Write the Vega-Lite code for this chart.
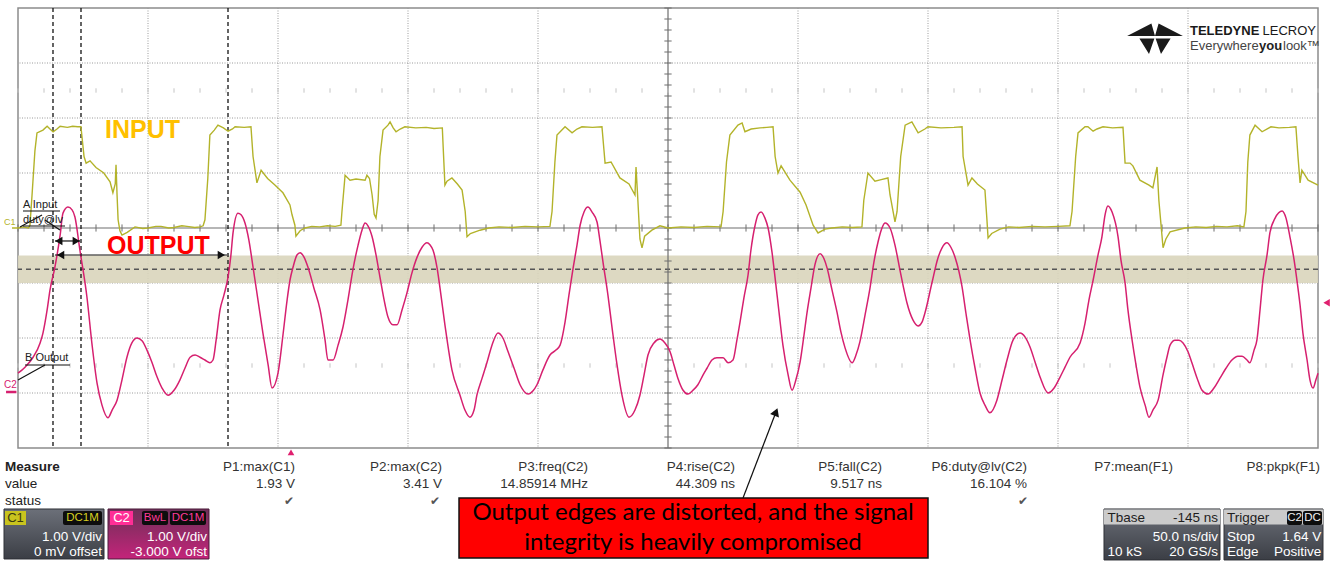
{
  "$schema": "https://vega.github.io/schema/vega-lite/v6.json",
  "width": 1300,
  "height": 440,
  "autosize": {"type": "none"},
  "padding": {"left": 18, "top": 8, "right": 13, "bottom": 114},
  "background": "white",
  "config": {"view": {"stroke": "#8c8c8c", "strokeWidth": 1.5}, "text": {"font": "Liberation Sans"}},
  "resolve": {"scale": {"y": "independent"}},
  "datasets": {
    "gridT": [{"t": -55}, {"t": -5}, {"t": 45}, {"t": 95}, {"t": 195}, {"t": 245}, {"t": 295}, {"t": 345}],
    "gridV": [{"v": -3}, {"v": -2}, {"v": -1}, {"v": 1}, {"v": 2}, {"v": 3}],
    "minorT": [{"t": -105}, {"t": -95}, {"t": -85}, {"t": -75}, {"t": -65}, {"t": -55}, {"t": -45}, {"t": -35}, {"t": -25}, {"t": -15}, {"t": -5}, {"t": 5}, {"t": 15}, {"t": 25}, {"t": 35}, {"t": 45}, {"t": 55}, {"t": 65}, {"t": 75}, {"t": 85}, {"t": 95}, {"t": 105}, {"t": 115}, {"t": 125}, {"t": 135}, {"t": 145}, {"t": 155}, {"t": 165}, {"t": 175}, {"t": 185}, {"t": 195}, {"t": 205}, {"t": 215}, {"t": 225}, {"t": 235}, {"t": 245}, {"t": 255}, {"t": 265}, {"t": 275}, {"t": 285}, {"t": 295}, {"t": 305}, {"t": 315}, {"t": 325}, {"t": 335}, {"t": 345}, {"t": 355}, {"t": 365}, {"t": 375}, {"t": 385}, {"t": 395}],
    "minorV": [{"v": -4}, {"v": -3.8}, {"v": -3.6}, {"v": -3.4}, {"v": -3.2}, {"v": -3}, {"v": -2.8}, {"v": -2.6}, {"v": -2.4}, {"v": -2.2}, {"v": -2}, {"v": -1.8}, {"v": -1.6}, {"v": -1.4}, {"v": -1.2}, {"v": -1}, {"v": -0.8}, {"v": -0.6}, {"v": -0.4}, {"v": -0.2}, {"v": 0}, {"v": 0.2}, {"v": 0.4}, {"v": 0.6}, {"v": 0.8}, {"v": 1}, {"v": 1.2}, {"v": 1.4}, {"v": 1.6}, {"v": 1.8}, {"v": 2}, {"v": 2.2}, {"v": 2.4}, {"v": 2.6}, {"v": 2.8}, {"v": 3}, {"v": 3.2}, {"v": 3.4}, {"v": 3.6}, {"v": 3.8}, {"v": 4}],
    "c1": [
      {"t": -105, "v": 0.0}, {"t": -103, "v": 0.02}, {"t": -101, "v": 0.0}, {"t": -100.4, "v": 0.05}, {"t": -99.6, "v": 0.6}, {"t": -98.5, "v": 1.4}, {"t": -97.7, "v": 1.73}, {"t": -95.4, "v": 1.78}, {"t": -93.8, "v": 1.85}, {"t": -92.7, "v": 1.8}, {"t": -91.5, "v": 1.75}, {"t": -90, "v": 1.8}, {"t": -88.8, "v": 1.85}, {"t": -86, "v": 1.83}, {"t": -84, "v": 1.85}, {"t": -82, "v": 1.84}, {"t": -80.8, "v": 1.84},
      {"t": -79.6, "v": 1.3}, {"t": -78.8, "v": 1.18}, {"t": -77.3, "v": 1.22}, {"t": -75, "v": 1.1}, {"t": -72, "v": 1.0}, {"t": -69.6, "v": 0.84}, {"t": -68.5, "v": 0.64}, {"t": -67.6, "v": 0.8}, {"t": -67.3, "v": 1.15}, {"t": -66.9, "v": 0.6}, {"t": -66.5, "v": 0.15}, {"t": -65.8, "v": -0.05}, {"t": -65, "v": -0.13}, {"t": -63, "v": -0.08}, {"t": -60, "v": 0.02}, {"t": -57, "v": -0.01}, {"t": -55, "v": 0.0}, {"t": -52, "v": 0.03}, {"t": -50, "v": 0.03}, {"t": -47, "v": 0.0}, {"t": -45, "v": 0.01}, {"t": -42, "v": 0.04}, {"t": -40, "v": 0.03}, {"t": -37, "v": 0.01}, {"t": -35, "v": 0.02}, {"t": -33.8, "v": 0.04},
      {"t": -33.1, "v": 0.15}, {"t": -32, "v": 0.9}, {"t": -31.2, "v": 1.69}, {"t": -29.5, "v": 1.78}, {"t": -28.1, "v": 1.87}, {"t": -26, "v": 1.82}, {"t": -24.2, "v": 1.76}, {"t": -22.5, "v": 1.8}, {"t": -21.5, "v": 1.84}, {"t": -18, "v": 1.83}, {"t": -15.4, "v": 1.84},
      {"t": -14.6, "v": 1.3}, {"t": -13.1, "v": 0.82}, {"t": -11.5, "v": 1.05}, {"t": -9, "v": 0.9}, {"t": -6.2, "v": 0.78}, {"t": -3.1, "v": 0.64}, {"t": -0.4, "v": 0.42}, {"t": 0.4, "v": 0.24}, {"t": 1.5, "v": 0.05}, {"t": 1.9, "v": -0.15}, {"t": 3.5, "v": -0.05}, {"t": 5.4, "v": 0.0}, {"t": 8, "v": 0.03}, {"t": 11, "v": 0.02}, {"t": 14, "v": 0.04}, {"t": 17, "v": 0.03}, {"t": 19.2, "v": 0.05},
      {"t": 19.6, "v": 0.3}, {"t": 20.8, "v": 0.96}, {"t": 22.7, "v": 0.87}, {"t": 25, "v": 0.89}, {"t": 28.5, "v": 0.87}, {"t": 29.2, "v": 0.96}, {"t": 30.2, "v": 0.9}, {"t": 31.2, "v": 0.6}, {"t": 32, "v": 0.25}, {"t": 32.7, "v": 0.18}, {"t": 33.5, "v": 0.5}, {"t": 34.2, "v": 1.3}, {"t": 35.4, "v": 1.78}, {"t": 37.3, "v": 1.87}, {"t": 38.1, "v": 1.93}, {"t": 39.3, "v": 1.82}, {"t": 40.4, "v": 1.75}, {"t": 42, "v": 1.8}, {"t": 43.8, "v": 1.84}, {"t": 48, "v": 1.82}, {"t": 52, "v": 1.83}, {"t": 55, "v": 1.81}, {"t": 58.2, "v": 1.82},
      {"t": 58.5, "v": 1.5}, {"t": 59.2, "v": 0.78}, {"t": 60, "v": 0.85}, {"t": 61.9, "v": 0.91}, {"t": 64, "v": 0.8}, {"t": 65.8, "v": 0.69}, {"t": 67, "v": 0.3}, {"t": 67.7, "v": -0.16}, {"t": 69, "v": -0.1}, {"t": 72.7, "v": -0.04}, {"t": 76, "v": 0.0}, {"t": 80, "v": 0.02}, {"t": 85, "v": 0.01}, {"t": 90, "v": 0.03}, {"t": 95, "v": 0.02}, {"t": 99.6, "v": 0.03},
      {"t": 100.4, "v": 0.3}, {"t": 101.5, "v": 1.2}, {"t": 102.3, "v": 1.69}, {"t": 105.4, "v": 1.84}, {"t": 108.1, "v": 1.73}, {"t": 110, "v": 1.8}, {"t": 111.9, "v": 1.84}, {"t": 116, "v": 1.83}, {"t": 119.6, "v": 1.84},
      {"t": 120.4, "v": 1.4}, {"t": 120.8, "v": 1.18}, {"t": 123.1, "v": 1.2}, {"t": 126.5, "v": 0.91}, {"t": 130, "v": 0.8}, {"t": 132.3, "v": 0.6}, {"t": 132.7, "v": 1.11}, {"t": 133.3, "v": 0.6}, {"t": 134.2, "v": -0.2}, {"t": 135, "v": -0.36}, {"t": 136, "v": -0.15}, {"t": 138.8, "v": -0.04}, {"t": 141.9, "v": 0.04}, {"t": 145, "v": 0.0}, {"t": 150, "v": 0.02}, {"t": 155, "v": 0.01}, {"t": 160, "v": 0.03}, {"t": 165.4, "v": 0.02},
      {"t": 166.2, "v": 0.3}, {"t": 167.5, "v": 1.2}, {"t": 168.8, "v": 1.69}, {"t": 171.9, "v": 1.87}, {"t": 173.5, "v": 1.91}, {"t": 174.6, "v": 1.75}, {"t": 177, "v": 1.8}, {"t": 180.4, "v": 1.82}, {"t": 183, "v": 1.83}, {"t": 185.4, "v": 1.84},
      {"t": 186.2, "v": 1.3}, {"t": 187.3, "v": 1.0}, {"t": 188.5, "v": 1.13}, {"t": 191.9, "v": 0.87}, {"t": 195.8, "v": 0.65}, {"t": 198.1, "v": 0.42}, {"t": 200.8, "v": 0.05}, {"t": 202.7, "v": -0.09}, {"t": 205.4, "v": -0.02}, {"t": 208, "v": 0.0}, {"t": 212, "v": 0.02}, {"t": 216, "v": 0.01}, {"t": 219.6, "v": 0.02},
      {"t": 220.3, "v": 0.5}, {"t": 221.9, "v": 1.0}, {"t": 224.6, "v": 0.85}, {"t": 227, "v": 0.88}, {"t": 229.6, "v": 0.91},
      {"t": 230.4, "v": 0.6}, {"t": 232.3, "v": 0.11}, {"t": 233.1, "v": 0.3}, {"t": 234.5, "v": 1.3}, {"t": 236.2, "v": 1.87}, {"t": 238.8, "v": 1.93}, {"t": 241.2, "v": 1.73}, {"t": 243.8, "v": 1.8}, {"t": 245, "v": 1.84}, {"t": 250, "v": 1.82}, {"t": 255, "v": 1.83}, {"t": 258.1, "v": 1.84},
      {"t": 258.5, "v": 1.3}, {"t": 260.4, "v": 0.78}, {"t": 261.9, "v": 0.91}, {"t": 264, "v": 0.8}, {"t": 266.9, "v": 0.69}, {"t": 267.6, "v": 0.2}, {"t": 268.1, "v": -0.18}, {"t": 269.5, "v": -0.1}, {"t": 272.7, "v": -0.02}, {"t": 276, "v": 0.02}, {"t": 280, "v": 0.01}, {"t": 285, "v": 0.03}, {"t": 290, "v": 0.02}, {"t": 295, "v": 0.03}, {"t": 299.6, "v": 0.04},
      {"t": 300.4, "v": 0.3}, {"t": 301.8, "v": 1.3}, {"t": 302.7, "v": 1.73}, {"t": 305.4, "v": 1.84}, {"t": 306.5, "v": 1.84}, {"t": 308.5, "v": 1.76}, {"t": 310, "v": 1.8}, {"t": 312.3, "v": 1.84}, {"t": 316, "v": 1.82}, {"t": 320, "v": 1.83},
      {"t": 320.8, "v": 1.18}, {"t": 322.7, "v": 1.18}, {"t": 323.8, "v": 1.13}, {"t": 326.5, "v": 0.87}, {"t": 330, "v": 0.78}, {"t": 331.5, "v": 0.73}, {"t": 333.1, "v": 1.11}, {"t": 333.8, "v": 0.5}, {"t": 335.4, "v": -0.36}, {"t": 336.5, "v": -0.2}, {"t": 338.1, "v": -0.07}, {"t": 343.8, "v": 0.0}, {"t": 348, "v": 0.02}, {"t": 352, "v": 0.01}, {"t": 356, "v": 0.03}, {"t": 360, "v": 0.02}, {"t": 364, "v": 0.04}, {"t": 366.5, "v": 0.02},
      {"t": 367.3, "v": 0.3}, {"t": 368, "v": 1.2}, {"t": 368.8, "v": 1.69}, {"t": 370.8, "v": 1.87}, {"t": 373.5, "v": 1.75}, {"t": 376.9, "v": 1.84}, {"t": 380, "v": 1.82}, {"t": 384, "v": 1.83}, {"t": 386.5, "v": 1.84},
      {"t": 387.3, "v": 1.3}, {"t": 388.1, "v": 0.82}, {"t": 388.8, "v": 1.05}, {"t": 391.2, "v": 0.87}, {"t": 395, "v": 0.78}
    ],
    "c2": [
      {"t": -105, "v": 0.36}, {"t": -102.3, "v": 0.47}, {"t": -99.2, "v": 0.65}, {"t": -96.5, "v": 0.91}, {"t": -95.4, "v": 1.09}, {"t": -93.8, "v": 1.51}, {"t": -92.7, "v": 1.87}, {"t": -90.8, "v": 2.29}, {"t": -88.8, "v": 2.87}, {"t": -87.7, "v": 3.27}, {"t": -85.8, "v": 3.38}, {"t": -84.2, "v": 3.33}, {"t": -83.1, "v": 3.2}, {"t": -81.2, "v": 2.6}, {"t": -78.5, "v": 1.75}, {"t": -76.5, "v": 0.87}, {"t": -74.6, "v": 0.18}, {"t": -72.7, "v": -0.22}, {"t": -70.4, "v": -0.45}, {"t": -68.8, "v": -0.31}, {"t": -66.9, "v": -0.13}, {"t": -65, "v": 0.24}, {"t": -63.1, "v": 0.65}, {"t": -61.2, "v": 0.91}, {"t": -59.2, "v": 1.0}, {"t": -57.3, "v": 0.95}, {"t": -55.4, "v": 0.78}, {"t": -53.5, "v": 0.56}, {"t": -51.5, "v": 0.29}, {"t": -49.6, "v": 0.09}, {"t": -47.3, "v": -0.04}, {"t": -45, "v": 0.05}, {"t": -42.7, "v": 0.24}, {"t": -40.8, "v": 0.45}, {"t": -38.8, "v": 0.65}, {"t": -36.9, "v": 0.69}, {"t": -35, "v": 0.65}, {"t": -33.1, "v": 0.6}, {"t": -31.2, "v": 0.55}, {"t": -30, "v": 0.6}, {"t": -28.8, "v": 0.96}, {"t": -27.3, "v": 1.51}, {"t": -25.8, "v": 1.78}, {"t": -24.2, "v": 2.11}, {"t": -23.1, "v": 2.51}, {"t": -22.3, "v": 2.91}, {"t": -20.4, "v": 3.27}, {"t": -19.2, "v": 3.24}, {"t": -17.7, "v": 3.09}, {"t": -16.2, "v": 2.78}, {"t": -14.6, "v": 2.29}, {"t": -12.7, "v": 1.69}, {"t": -10.8, "v": 1.09}, {"t": -8.8, "v": 0.51}, {"t": -7.3, "v": 0.09}, {"t": -5, "v": 0.36}, {"t": -3.1, "v": 1.05}, {"t": -1.5, "v": 1.69}, {"t": -0.4, "v": 2.05}, {"t": 0.8, "v": 2.29}, {"t": 2.3, "v": 2.51}, {"t": 3.5, "v": 2.55}, {"t": 5, "v": 2.47}, {"t": 6.5, "v": 2.29}, {"t": 8.8, "v": 1.91}, {"t": 11.2, "v": 1.51}, {"t": 13.1, "v": 0.96}, {"t": 14.2, "v": 0.6}, {"t": 16.2, "v": 0.6}, {"t": 18.1, "v": 0.87}, {"t": 20, "v": 1.2}, {"t": 21.9, "v": 1.69}, {"t": 23.8, "v": 2.24}, {"t": 25.8, "v": 2.69}, {"t": 27.3, "v": 2.96}, {"t": 28.5, "v": 3.09}, {"t": 29.6, "v": 3.04}, {"t": 31.2, "v": 2.84}, {"t": 32.7, "v": 2.51}, {"t": 34.2, "v": 2.11}, {"t": 36.2, "v": 1.6}, {"t": 37.3, "v": 1.38}, {"t": 39.2, "v": 1.24}, {"t": 40.8, "v": 1.24}, {"t": 42.7, "v": 1.51}, {"t": 44.6, "v": 1.82}, {"t": 46.5, "v": 2.18}, {"t": 48.5, "v": 2.47}, {"t": 50.4, "v": 2.65}, {"t": 52.3, "v": 2.73}, {"t": 53.5, "v": 2.69}, {"t": 54.6, "v": 2.6}, {"t": 56.2, "v": 2.27}, {"t": 57.3, "v": 1.91}, {"t": 59.2, "v": 1.24}, {"t": 61.9, "v": 0.42}, {"t": 65, "v": -0.04}, {"t": 66.9, "v": -0.31}, {"t": 68.8, "v": -0.44}, {"t": 70.4, "v": -0.31}, {"t": 71.5, "v": -0.04}, {"t": 73.5, "v": 0.27}, {"t": 75.4, "v": 0.56}, {"t": 77.3, "v": 0.87}, {"t": 79.6, "v": 1.09}, {"t": 81.5, "v": 1.0}, {"t": 83.5, "v": 0.75}, {"t": 85.8, "v": 0.45}, {"t": 88.1, "v": 0.15}, {"t": 91.2, "v": -0.02}, {"t": 93.1, "v": 0.04}, {"t": 94.6, "v": 0.15}, {"t": 96.9, "v": 0.42}, {"t": 99.6, "v": 0.69}, {"t": 101.9, "v": 0.78}, {"t": 103.5, "v": 0.87}, {"t": 105.4, "v": 1.29}, {"t": 106.9, "v": 1.78}, {"t": 108.5, "v": 2.27}, {"t": 110, "v": 2.69}, {"t": 111.2, "v": 3.05}, {"t": 112.7, "v": 3.29}, {"t": 114.2, "v": 3.38}, {"t": 115.8, "v": 3.29}, {"t": 117.7, "v": 3.11}, {"t": 118.8, "v": 2.78}, {"t": 120, "v": 2.38}, {"t": 121.9, "v": 1.78}, {"t": 123.5, "v": 1.18}, {"t": 125.4, "v": 0.51}, {"t": 127.3, "v": -0.04}, {"t": 130, "v": -0.44}, {"t": 132.3, "v": -0.31}, {"t": 134.2, "v": -0.04}, {"t": 135.8, "v": 0.33}, {"t": 137.3, "v": 0.69}, {"t": 139.6, "v": 0.91}, {"t": 141.9, "v": 0.98}, {"t": 143.8, "v": 0.91}, {"t": 145.8, "v": 0.75}, {"t": 147.3, "v": 0.51}, {"t": 148.8, "v": 0.27}, {"t": 150.8, "v": 0.05}, {"t": 152.7, "v": -0.02}, {"t": 154.6, "v": 0.05}, {"t": 156.5, "v": 0.15}, {"t": 158.5, "v": 0.33}, {"t": 160, "v": 0.45}, {"t": 161.9, "v": 0.6}, {"t": 163.8, "v": 0.64}, {"t": 166.2, "v": 0.64}, {"t": 168.1, "v": 0.55}, {"t": 170, "v": 0.6}, {"t": 171.5, "v": 0.96}, {"t": 172.7, "v": 1.29}, {"t": 174.2, "v": 1.73}, {"t": 175.8, "v": 2.15}, {"t": 176.9, "v": 2.6}, {"t": 178.5, "v": 3.05}, {"t": 179.6, "v": 3.24}, {"t": 180.8, "v": 3.29}, {"t": 182.3, "v": 3.18}, {"t": 183.5, "v": 3.0}, {"t": 185, "v": 2.56}, {"t": 186.2, "v": 2.09}, {"t": 187.7, "v": 1.47}, {"t": 189.2, "v": 0.87}, {"t": 191.2, "v": 0.33}, {"t": 192.7, "v": 0.05}, {"t": 194.2, "v": 0.24}, {"t": 195.8, "v": 0.56}, {"t": 197.3, "v": 1.05}, {"t": 198.5, "v": 1.47}, {"t": 200, "v": 1.91}, {"t": 201.5, "v": 2.33}, {"t": 203.5, "v": 2.53}, {"t": 205, "v": 2.44}, {"t": 206.2, "v": 2.27}, {"t": 208.1, "v": 1.87}, {"t": 210, "v": 1.47}, {"t": 211.5, "v": 1.11}, {"t": 213.1, "v": 0.82}, {"t": 215.8, "v": 0.55}, {"t": 217.3, "v": 0.69}, {"t": 218.8, "v": 0.93}, {"t": 220.8, "v": 1.42}, {"t": 222.7, "v": 1.91}, {"t": 224.2, "v": 2.38}, {"t": 225.8, "v": 2.75}, {"t": 227.3, "v": 3.0}, {"t": 228.5, "v": 3.09}, {"t": 230.4, "v": 3.0}, {"t": 232.3, "v": 2.69}, {"t": 234.2, "v": 2.24}, {"t": 235.8, "v": 1.87}, {"t": 236.9, "v": 1.64}, {"t": 239.2, "v": 1.33}, {"t": 241.2, "v": 1.22}, {"t": 242.7, "v": 1.29}, {"t": 243.8, "v": 1.45}, {"t": 246.5, "v": 2.0}, {"t": 248.8, "v": 2.45}, {"t": 250.4, "v": 2.64}, {"t": 252.3, "v": 2.73}, {"t": 253.8, "v": 2.65}, {"t": 255.4, "v": 2.47}, {"t": 258.1, "v": 1.93}, {"t": 259.6, "v": 1.45}, {"t": 261.2, "v": 0.96}, {"t": 263.1, "v": 0.45}, {"t": 265, "v": 0.0}, {"t": 266.9, "v": -0.22}, {"t": 268.8, "v": -0.36}, {"t": 271.5, "v": -0.13}, {"t": 273.5, "v": 0.24}, {"t": 275.4, "v": 0.6}, {"t": 277.7, "v": 0.96}, {"t": 280.4, "v": 1.09}, {"t": 282.3, "v": 1.02}, {"t": 284.2, "v": 0.84}, {"t": 286.2, "v": 0.56}, {"t": 288.1, "v": 0.29}, {"t": 291.2, "v": 0.0}, {"t": 293.5, "v": 0.09}, {"t": 295.8, "v": 0.29}, {"t": 297.7, "v": 0.47}, {"t": 299.6, "v": 0.65}, {"t": 303.5, "v": 0.91}, {"t": 305.4, "v": 1.27}, {"t": 306.9, "v": 1.69}, {"t": 308.5, "v": 2.05}, {"t": 310.4, "v": 2.51}, {"t": 311.9, "v": 2.84}, {"t": 313.1, "v": 3.24}, {"t": 314.2, "v": 3.4}, {"t": 315.8, "v": 3.29}, {"t": 318.1, "v": 2.84}, {"t": 319.2, "v": 2.42}, {"t": 320.8, "v": 2.0}, {"t": 321.9, "v": 1.51}, {"t": 323.5, "v": 0.96}, {"t": 325, "v": 0.51}, {"t": 326.5, "v": 0.11}, {"t": 328.5, "v": -0.22}, {"t": 330, "v": -0.44}, {"t": 331.5, "v": -0.31}, {"t": 333.5, "v": -0.13}, {"t": 335.4, "v": 0.33}, {"t": 336.9, "v": 0.65}, {"t": 338.1, "v": 0.87}, {"t": 340, "v": 0.96}, {"t": 341.5, "v": 0.96}, {"t": 343.1, "v": 0.91}, {"t": 345, "v": 0.75}, {"t": 346.5, "v": 0.55}, {"t": 348.5, "v": 0.27}, {"t": 350.4, "v": 0.05}, {"t": 352.7, "v": -0.02}, {"t": 355, "v": 0.09}, {"t": 357.3, "v": 0.27}, {"t": 359.6, "v": 0.45}, {"t": 361.9, "v": 0.6}, {"t": 364.2, "v": 0.67}, {"t": 365.8, "v": 0.67}, {"t": 367.7, "v": 0.6}, {"t": 368.8, "v": 0.55}, {"t": 370.4, "v": 0.78}, {"t": 371.5, "v": 0.96}, {"t": 372.7, "v": 1.51}, {"t": 373.8, "v": 2.05}, {"t": 375.4, "v": 2.51}, {"t": 376.5, "v": 2.91}, {"t": 378.5, "v": 3.18}, {"t": 381.2, "v": 3.31}, {"t": 382.7, "v": 3.18}, {"t": 384.2, "v": 2.84}, {"t": 385.8, "v": 2.42}, {"t": 386.9, "v": 2.05}, {"t": 388.1, "v": 1.6}, {"t": 389.2, "v": 1.09}, {"t": 390.8, "v": 0.6}, {"t": 391.9, "v": 0.24}, {"t": 393.1, "v": 0.09}, {"t": 394.2, "v": 0.24}, {"t": 395, "v": 0.36}
    ],
    "segs": [
      {"t0": -103.08, "t1": -88.85, "v0": 0.309, "v1": 0.309},
      {"t0": -103.08, "t1": -86.92, "v0": 0.036, "v1": 0.036},
      {"t0": -104.23, "t1": -95.77, "v0": 0.018, "v1": 0.236},
      {"t0": -94.62, "t1": -88.85, "v0": 0.145, "v1": -0.036},
      {"t0": -102.31, "t1": -85.0, "v0": -2.491, "v1": -2.491},
      {"t0": -105.0, "t1": -94.62, "v0": -2.764, "v1": -2.491},
      {"t0": -90.77, "t1": -81.15, "v0": -0.236, "v1": -0.236},
      {"t0": -90.77, "t1": -24.62, "v0": -0.491, "v1": -0.491},
      {"t0": 173.85, "t1": 186.54, "v0": -4.909, "v1": -3.345}
    ],
    "boxes": [
      {"t0": -110.38, "t1": -71.92, "v0": -5.109, "v1": -6.018, "k": "c1"},
      {"t0": -70.38, "t1": -31.54, "v0": -5.109, "v1": -6.018, "k": "c2"},
      {"t0": 312.69, "t1": 357.31, "v0": -5.109, "v1": -6.036, "k": "tb"},
      {"t0": 358.85, "t1": 396.92, "v0": -5.109, "v1": -6.036, "k": "tr"}
    ],
    "heads": [
      {"t": 312.69, "t1": 357.31},
      {"t": 358.85, "t1": 396.92}
    ],
    "blackTags": [
      {"t0": -87.69, "t1": -72.69},
      {"t0": -57.31, "t1": -47.31},
      {"t0": -46.54, "t1": -32.69},
      {"t0": 383.08, "t1": 388.85},
      {"t0": 389.23, "t1": 396.54}
    ]
  },
  "layer": [
    {
      "data": {"name": "gridT"},
      "mark": {"type": "rule", "color": "#9a9a9a", "strokeDash": [1, 1.5], "strokeWidth": 1},
      "encoding": {"x": {"field": "t", "type": "quantitative", "scale": {"domain": [-105, 395]}, "axis": null}}
    },
    {
      "data": {"name": "gridV"},
      "mark": {"type": "rule", "color": "#9a9a9a", "strokeDash": [1, 1.5], "strokeWidth": 1},
      "encoding": {"y": {"field": "v", "type": "quantitative", "scale": {"domain": [-4, 4]}, "axis": null}}
    },
    {
      "data": {"values": [{"lo": 2.0, "hi": 2.5}]},
      "mark": {"type": "rect", "color": "#d9d5bb", "opacity": 0.9},
      "encoding": {
        "x": {"datum": -105, "type": "quantitative", "scale": {"domain": [-105, 395]}, "axis": null},
        "x2": {"datum": 395},
        "y": {"field": "lo", "type": "quantitative", "scale": {"domain": [-1, 7]}, "axis": null},
        "y2": {"field": "hi"}
      }
    },
    {
      "data": {"values": [{"lv": 2.25}]},
      "mark": {"type": "rule", "color": "#555555", "strokeDash": [5, 4], "strokeWidth": 1.6},
      "encoding": {"y": {"field": "lv", "type": "quantitative", "scale": {"domain": [-1, 7]}, "axis": null}}
    },
    {
      "data": {"values": [{"c": 145}]},
      "mark": {"type": "rule", "color": "#6e6e6e", "strokeWidth": 1.2},
      "encoding": {"x": {"field": "c", "type": "quantitative", "scale": {"domain": [-105, 395]}, "axis": null}}
    },
    {
      "data": {"values": [{"c": 0}]},
      "mark": {"type": "rule", "color": "#6e6e6e", "strokeWidth": 1.2},
      "encoding": {"y": {"field": "c", "type": "quantitative", "scale": {"domain": [-4, 4]}, "axis": null}}
    },
    {
      "data": {"name": "minorT"},
      "mark": {"type": "rule", "color": "#6e6e6e", "strokeWidth": 1},
      "encoding": {
        "x": {"field": "t", "type": "quantitative", "scale": {"domain": [-105, 395]}, "axis": null},
        "y": {"datum": -0.065, "type": "quantitative", "scale": {"domain": [-4, 4]}, "axis": null},
        "y2": {"datum": 0.065}
      }
    },
    {
      "data": {"name": "minorV"},
      "mark": {"type": "rule", "color": "#6e6e6e", "strokeWidth": 1},
      "encoding": {
        "y": {"field": "v", "type": "quantitative", "scale": {"domain": [-4, 4]}, "axis": null},
        "x": {"datum": 143.6, "type": "quantitative", "scale": {"domain": [-105, 395]}, "axis": null},
        "x2": {"datum": 146.4}
      }
    },
    {
      "data": {"name": "minorT"},
      "mark": {"type": "rule", "color": "#c4c4c4", "strokeWidth": 1},
      "encoding": {
        "x": {"field": "t", "type": "quantitative", "scale": {"domain": [-105, 395]}, "axis": null},
        "y": {"datum": 2.46, "type": "quantitative", "scale": {"domain": [-4, 4]}, "axis": null},
        "y2": {"datum": 2.54}
      }
    },
    {
      "data": {"name": "minorT"},
      "mark": {"type": "rule", "color": "#c4c4c4", "strokeWidth": 1},
      "encoding": {
        "x": {"field": "t", "type": "quantitative", "scale": {"domain": [-105, 395]}, "axis": null},
        "y": {"datum": -2.54, "type": "quantitative", "scale": {"domain": [-4, 4]}, "axis": null},
        "y2": {"datum": -2.46}
      }
    },
    {
      "data": {"values": [{"t": -91.54}, {"t": -80.77}, {"t": -24.23}]},
      "mark": {"type": "rule", "color": "#111111", "strokeDash": [4, 3], "strokeWidth": 1.3},
      "encoding": {"x": {"field": "t", "type": "quantitative", "scale": {"domain": [-105, 395]}, "axis": null}}
    },
    {
      "data": {"name": "c1"},
      "mark": {"type": "line", "color": "#b3b32a", "strokeWidth": 1.4},
      "encoding": {
        "x": {"field": "t", "type": "quantitative", "scale": {"domain": [-105, 395]}, "axis": null},
        "y": {"field": "v", "type": "quantitative", "scale": {"domain": [-4, 4]}, "axis": null}
      }
    },
    {
      "data": {"name": "c2"},
      "mark": {"type": "line", "color": "#d6206f", "strokeWidth": 1.5, "interpolate": "monotone"},
      "encoding": {
        "x": {"field": "t", "type": "quantitative", "scale": {"domain": [-105, 395]}, "axis": null},
        "y": {"field": "v", "type": "quantitative", "scale": {"domain": [-1, 7]}, "axis": null}
      }
    },
    {
      "data": {"values": [{"t0": -107.3, "t1": -105.0, "v": 0.0}]},
      "mark": {"type": "rule", "color": "#b3b32a", "strokeWidth": 1.5},
      "encoding": {
        "x": {"field": "t0", "type": "quantitative", "scale": {"domain": [-105, 395]}, "axis": null},
        "x2": {"field": "t1"},
        "y": {"field": "v", "type": "quantitative", "scale": {"domain": [-4, 4]}, "axis": null}
      }
    },
    {
      "data": {"values": [{"t0": -109.6, "t1": -105.6, "v": -2.982}]},
      "mark": {"type": "rule", "color": "#d6206f", "strokeWidth": 2.5},
      "encoding": {
        "x": {"field": "t0", "type": "quantitative", "scale": {"domain": [-105, 395]}, "axis": null},
        "x2": {"field": "t1"},
        "y": {"field": "v", "type": "quantitative", "scale": {"domain": [-4, 4]}, "axis": null}
      }
    },
    {
      "data": {"name": "segs"},
      "mark": {"type": "rule", "color": "#111111", "strokeWidth": 1.2},
      "encoding": {
        "x": {"field": "t0", "type": "quantitative", "scale": {"domain": [-105, 395]}, "axis": null},
        "x2": {"field": "t1"},
        "y": {"field": "v0", "type": "quantitative", "scale": {"domain": [-4, 4]}, "axis": null},
        "y2": {"field": "v1"}
      }
    },
    {
      "data": {"values": [{"t": -89.3, "v": -0.236}, {"t": -88.6, "v": -0.491}]},
      "mark": {"type": "point", "shape": "triangle-left", "filled": true, "color": "#111111", "size": 70, "opacity": 1},
      "encoding": {
        "x": {"field": "t", "type": "quantitative", "scale": {"domain": [-105, 395]}, "axis": null},
        "y": {"field": "v", "type": "quantitative", "scale": {"domain": [-4, 4]}, "axis": null}
      }
    },
    {
      "data": {"values": [{"t": -82.6, "v": -0.236}, {"t": -26.8, "v": -0.491}]},
      "mark": {"type": "point", "shape": "triangle-right", "filled": true, "color": "#111111", "size": 70, "opacity": 1},
      "encoding": {
        "x": {"field": "t", "type": "quantitative", "scale": {"domain": [-105, 395]}, "axis": null},
        "y": {"field": "v", "type": "quantitative", "scale": {"domain": [-4, 4]}, "axis": null}
      }
    },
    {
      "data": {"values": [{"t": -103.08, "v": 0.418, "label": "A Input"}, {"t": -103.08, "v": 0.145, "label": "duty@lv"}, {"t": -102.31, "v": -2.364, "label": "B Output"}]},
      "mark": {"type": "text", "align": "left", "baseline": "middle", "fontSize": 11, "color": "#222222"},
      "encoding": {
        "x": {"field": "t", "type": "quantitative", "scale": {"domain": [-105, 395]}, "axis": null},
        "y": {"field": "v", "type": "quantitative", "scale": {"domain": [-4, 4]}, "axis": null},
        "text": {"field": "label", "type": "nominal"}
      }
    },
    {
      "data": {"values": [{"t": -110.4, "v": 0.11, "label": "C1"}]},
      "mark": {"type": "text", "align": "left", "baseline": "middle", "fontSize": 9, "color": "#b3b32a"},
      "encoding": {
        "x": {"field": "t", "type": "quantitative", "scale": {"domain": [-105, 395]}, "axis": null},
        "y": {"field": "v", "type": "quantitative", "scale": {"domain": [-4, 4]}, "axis": null},
        "text": {"field": "label", "type": "nominal"}
      }
    },
    {
      "data": {"values": [{"t": -110.4, "v": -2.855, "label": "C2"}]},
      "mark": {"type": "text", "align": "left", "baseline": "middle", "fontSize": 10, "color": "#d6206f"},
      "encoding": {
        "x": {"field": "t", "type": "quantitative", "scale": {"domain": [-105, 395]}, "axis": null},
        "y": {"field": "v", "type": "quantitative", "scale": {"domain": [-4, 4]}, "axis": null},
        "text": {"field": "label", "type": "nominal"}
      }
    },
    {
      "data": {"values": [{"t": -71.54, "v": 1.78, "label": "INPUT"}]},
      "mark": {"type": "text", "align": "left", "baseline": "middle", "fontSize": 25, "fontWeight": "bold", "color": "#ffc000"},
      "encoding": {
        "x": {"field": "t", "type": "quantitative", "scale": {"domain": [-105, 395]}, "axis": null},
        "y": {"field": "v", "type": "quantitative", "scale": {"domain": [-4, 4]}, "axis": null},
        "text": {"field": "label", "type": "nominal"}
      }
    },
    {
      "data": {"values": [{"t": -70.77, "v": -0.327, "label": "OUTPUT"}]},
      "mark": {"type": "text", "align": "left", "baseline": "middle", "fontSize": 25, "fontWeight": "bold", "color": "#ff0000"},
      "encoding": {
        "x": {"field": "t", "type": "quantitative", "scale": {"domain": [-105, 395]}, "axis": null},
        "y": {"field": "v", "type": "quantitative", "scale": {"domain": [-4, 4]}, "axis": null},
        "text": {"field": "label", "type": "nominal"}
      }
    },
    {
      "data": {"values": [{"t": 0, "v": -4.08}]},
      "mark": {"type": "point", "shape": "triangle-up", "filled": true, "color": "#e0206f", "size": 45, "opacity": 1},
      "encoding": {
        "x": {"field": "t", "type": "quantitative", "scale": {"domain": [-105, 395]}, "axis": null},
        "y": {"field": "v", "type": "quantitative", "scale": {"domain": [-4, 4]}, "axis": null}
      }
    },
    {
      "data": {"values": [{"t": 398.3, "v": 1.64}]},
      "mark": {"type": "point", "shape": "triangle-left", "filled": true, "color": "#e0206f", "size": 55, "opacity": 1},
      "encoding": {
        "x": {"field": "t", "type": "quantitative", "scale": {"domain": [-105, 395]}, "axis": null},
        "y": {"field": "v", "type": "quantitative", "scale": {"domain": [-1, 7]}, "axis": null}
      }
    },
    {
      "data": {"values": [{"t": -110.0, "v": -4.345, "label": "Measure"}]},
      "mark": {"type": "text", "align": "left", "baseline": "middle", "fontSize": 13.5, "fontWeight": "bold", "color": "#222222"},
      "encoding": {
        "x": {"field": "t", "type": "quantitative", "scale": {"domain": [-105, 395]}, "axis": null},
        "y": {"field": "v", "type": "quantitative", "scale": {"domain": [-4, 4]}, "axis": null},
        "text": {"field": "label", "type": "nominal"}
      }
    },
    {
      "data": {"values": [{"t": -110.0, "v": -4.655, "label": "value"}, {"t": -110.0, "v": -4.964, "label": "status"}]},
      "mark": {"type": "text", "align": "left", "baseline": "middle", "fontSize": 13.5, "color": "#222222"},
      "encoding": {
        "x": {"field": "t", "type": "quantitative", "scale": {"domain": [-105, 395]}, "axis": null},
        "y": {"field": "v", "type": "quantitative", "scale": {"domain": [-4, 4]}, "axis": null},
        "text": {"field": "label", "type": "nominal"}
      }
    },
    {
      "data": {"values": [
        {"t": 1.54, "v": -4.345, "label": "P1:max(C1)"}, {"t": 58.08, "v": -4.345, "label": "P2:max(C2)"}, {"t": 114.23, "v": -4.345, "label": "P3:freq(C2)"}, {"t": 170.77, "v": -4.345, "label": "P4:rise(C2)"}, {"t": 227.31, "v": -4.345, "label": "P5:fall(C2)"}, {"t": 283.08, "v": -4.345, "label": "P6:duty@lv(C2)"}, {"t": 339.23, "v": -4.345, "label": "P7:mean(F1)"}, {"t": 395.77, "v": -4.345, "label": "P8:pkpk(F1)"},
        {"t": 1.54, "v": -4.655, "label": "1.93 V"}, {"t": 58.08, "v": -4.655, "label": "3.41 V"}, {"t": 114.23, "v": -4.655, "label": "14.85914 MHz"}, {"t": 170.77, "v": -4.655, "label": "44.309 ns"}, {"t": 227.31, "v": -4.655, "label": "9.517 ns"}, {"t": 283.08, "v": -4.655, "label": "16.104 %"}
      ]},
      "mark": {"type": "text", "align": "right", "baseline": "middle", "fontSize": 13.5, "color": "#333333"},
      "encoding": {
        "x": {"field": "t", "type": "quantitative", "scale": {"domain": [-105, 395]}, "axis": null},
        "y": {"field": "v", "type": "quantitative", "scale": {"domain": [-4, 4]}, "axis": null},
        "text": {"field": "label", "type": "nominal"}
      }
    },
    {
      "data": {"values": [{"t": 1.15, "v": -4.964, "label": "✔"}, {"t": 57.31, "v": -4.964, "label": "✔"}, {"t": 283.46, "v": -4.964, "label": "✔"}]},
      "mark": {"type": "text", "align": "right", "baseline": "middle", "fontSize": 12, "font": "DejaVu Sans", "color": "#555555"},
      "encoding": {
        "x": {"field": "t", "type": "quantitative", "scale": {"domain": [-105, 395]}, "axis": null},
        "y": {"field": "v", "type": "quantitative", "scale": {"domain": [-4, 4]}, "axis": null},
        "text": {"field": "label", "type": "nominal"}
      }
    },
    {
      "data": {"name": "boxes"},
      "transform": [{"filter": "datum.k === 'c1' || datum.k === 'tb' || datum.k === 'tr'"}],
      "mark": {"type": "rect", "fill": {"gradient": "linear", "x1": 0, "y1": 0, "x2": 0, "y2": 1, "stops": [{"offset": 0, "color": "#6c7079"}, {"offset": 1, "color": "#3b3e45"}]}, "stroke": "#2e3036", "strokeWidth": 1},
      "encoding": {
        "x": {"field": "t0", "type": "quantitative", "scale": {"domain": [-105, 395]}, "axis": null},
        "x2": {"field": "t1"},
        "y": {"field": "v0", "type": "quantitative", "scale": {"domain": [-4, 4]}, "axis": null},
        "y2": {"field": "v1"}
      }
    },
    {
      "data": {"name": "boxes"},
      "transform": [{"filter": "datum.k === 'c2'"}],
      "mark": {"type": "rect", "fill": {"gradient": "linear", "x1": 0, "y1": 0, "x2": 0, "y2": 1, "stops": [{"offset": 0, "color": "#6e3058"}, {"offset": 1, "color": "#c4247a"}]}, "stroke": "#4a1a3a", "strokeWidth": 1},
      "encoding": {
        "x": {"field": "t0", "type": "quantitative", "scale": {"domain": [-105, 395]}, "axis": null},
        "x2": {"field": "t1"},
        "y": {"field": "v0", "type": "quantitative", "scale": {"domain": [-4, 4]}, "axis": null},
        "y2": {"field": "v1"}
      }
    },
    {
      "data": {"name": "heads"},
      "mark": {"type": "rect", "fill": "#cbcbcb"},
      "encoding": {
        "x": {"field": "t", "type": "quantitative", "scale": {"domain": [-105, 395]}, "axis": null},
        "x2": {"field": "t1"},
        "y": {"datum": -5.12, "type": "quantitative", "scale": {"domain": [-4, 4]}, "axis": null},
        "y2": {"datum": -5.39}
      }
    },
    {
      "data": {"values": [{"t0": -110.0, "t1": -101.92}]},
      "mark": {"type": "rect", "fill": "#c9c41e"},
      "encoding": {
        "x": {"field": "t0", "type": "quantitative", "scale": {"domain": [-105, 395]}, "axis": null},
        "x2": {"field": "t1"},
        "y": {"datum": -5.145, "type": "quantitative", "scale": {"domain": [-4, 4]}, "axis": null},
        "y2": {"datum": -5.4}
      }
    },
    {
      "data": {"values": [{"t0": -69.62, "t1": -60.77}]},
      "mark": {"type": "rect", "fill": "#ff2e96"},
      "encoding": {
        "x": {"field": "t0", "type": "quantitative", "scale": {"domain": [-105, 395]}, "axis": null},
        "x2": {"field": "t1"},
        "y": {"datum": -5.145, "type": "quantitative", "scale": {"domain": [-4, 4]}, "axis": null},
        "y2": {"datum": -5.4}
      }
    },
    {
      "data": {"name": "blackTags"},
      "mark": {"type": "rect", "fill": "#0d0d0d", "cornerRadius": 2},
      "encoding": {
        "x": {"field": "t0", "type": "quantitative", "scale": {"domain": [-105, 395]}, "axis": null},
        "x2": {"field": "t1"},
        "y": {"datum": -5.145, "type": "quantitative", "scale": {"domain": [-4, 4]}, "axis": null},
        "y2": {"datum": -5.4}
      }
    },
    {
      "data": {"values": [
        {"t": -80.19, "label": "DC1M", "c": "y"},
        {"t": -52.31, "label": "BwL", "c": "m"},
        {"t": -39.6, "label": "DC1M", "c": "m"},
        {"t": 385.96, "label": "C2", "c": "w"},
        {"t": 392.9, "label": "DC", "c": "w"}
      ]},
      "mark": {"type": "text", "align": "center", "baseline": "middle", "fontSize": 11.5},
      "encoding": {
        "x": {"field": "t", "type": "quantitative", "scale": {"domain": [-105, 395]}, "axis": null},
        "y": {"datum": -5.273, "type": "quantitative", "scale": {"domain": [-4, 4]}, "axis": null},
        "text": {"field": "label", "type": "nominal"},
        "color": {"field": "c", "type": "nominal", "scale": {"domain": ["y", "m", "w"], "range": ["#d6d020", "#ff3a9a", "#f0f0f0"]}, "legend": null}
      }
    },
    {
      "data": {"values": [{"t": -105.96, "label": "C1"}]},
      "mark": {"type": "text", "align": "center", "baseline": "middle", "fontSize": 13, "color": "#3a3a10"},
      "encoding": {
        "x": {"field": "t", "type": "quantitative", "scale": {"domain": [-105, 395]}, "axis": null},
        "y": {"datum": -5.273, "type": "quantitative", "scale": {"domain": [-4, 4]}, "axis": null},
        "text": {"field": "label", "type": "nominal"}
      }
    },
    {
      "data": {"values": [{"t": -65.2, "label": "C2"}]},
      "mark": {"type": "text", "align": "center", "baseline": "middle", "fontSize": 13, "color": "#ffffff"},
      "encoding": {
        "x": {"field": "t", "type": "quantitative", "scale": {"domain": [-105, 395]}, "axis": null},
        "y": {"datum": -5.273, "type": "quantitative", "scale": {"domain": [-4, 4]}, "axis": null},
        "text": {"field": "label", "type": "nominal"}
      }
    },
    {
      "data": {"values": [
        {"t": -72.69, "v": -5.618, "label": "1.00 V/div"}, {"t": -72.69, "v": -5.891, "label": "0 mV offset"},
        {"t": -32.31, "v": -5.618, "label": "1.00 V/div"}, {"t": -32.31, "v": -5.891, "label": "-3.000 V ofst"},
        {"t": 356.54, "v": -5.618, "label": "50.0 ns/div"}, {"t": 356.54, "v": -5.891, "label": "20 GS/s"},
        {"t": 396.3, "v": -5.618, "label": "1.64 V"}, {"t": 396.3, "v": -5.891, "label": "Positive"}
      ]},
      "mark": {"type": "text", "align": "right", "baseline": "middle", "fontSize": 13.5, "color": "#ffffff"},
      "encoding": {
        "x": {"field": "t", "type": "quantitative", "scale": {"domain": [-105, 395]}, "axis": null},
        "y": {"field": "v", "type": "quantitative", "scale": {"domain": [-4, 4]}, "axis": null},
        "text": {"field": "label", "type": "nominal"}
      }
    },
    {
      "data": {"values": [
        {"t": 314.0, "v": -5.891, "label": "10 kS"},
        {"t": 360.0, "v": -5.618, "label": "Stop"}, {"t": 360.0, "v": -5.891, "label": "Edge"}
      ]},
      "mark": {"type": "text", "align": "left", "baseline": "middle", "fontSize": 13.5, "color": "#ffffff"},
      "encoding": {
        "x": {"field": "t", "type": "quantitative", "scale": {"domain": [-105, 395]}, "axis": null},
        "y": {"field": "v", "type": "quantitative", "scale": {"domain": [-4, 4]}, "axis": null},
        "text": {"field": "label", "type": "nominal"}
      }
    },
    {
      "data": {"values": [{"t": 314.0, "label": "Tbase"}, {"t": 360.0, "label": "Trigger"}]},
      "mark": {"type": "text", "align": "left", "baseline": "middle", "fontSize": 13.5, "color": "#1e1e1e"},
      "encoding": {
        "x": {"field": "t", "type": "quantitative", "scale": {"domain": [-105, 395]}, "axis": null},
        "y": {"datum": -5.264, "type": "quantitative", "scale": {"domain": [-4, 4]}, "axis": null},
        "text": {"field": "label", "type": "nominal"}
      }
    },
    {
      "data": {"values": [{"t": 356.54, "label": "-145 ns"}]},
      "mark": {"type": "text", "align": "right", "baseline": "middle", "fontSize": 13.5, "color": "#1e1e1e"},
      "encoding": {
        "x": {"field": "t", "type": "quantitative", "scale": {"domain": [-105, 395]}, "axis": null},
        "y": {"datum": -5.264, "type": "quantitative", "scale": {"domain": [-4, 4]}, "axis": null},
        "text": {"field": "label", "type": "nominal"}
      }
    },
    {
      "data": {"values": [{"t0": 64.62, "t1": 245.0, "v0": -4.909, "v1": -6.0}]},
      "mark": {"type": "rect", "fill": "#ff0000", "stroke": "#111111", "strokeWidth": 1.5},
      "encoding": {
        "x": {"field": "t0", "type": "quantitative", "scale": {"domain": [-105, 395]}, "axis": null},
        "x2": {"field": "t1"},
        "y": {"field": "v0", "type": "quantitative", "scale": {"domain": [-4, 4]}, "axis": null},
        "y2": {"field": "v1"}
      }
    },
    {
      "data": {"values": [{"t": 154.62, "v": -5.182, "label": "Output edges are distorted, and the signal"}, {"t": 154.62, "v": -5.727, "label": "integrity is heavily compromised"}]},
      "mark": {"type": "text", "align": "center", "baseline": "middle", "fontSize": 24, "font": "Lato", "color": "#000000"},
      "encoding": {
        "x": {"field": "t", "type": "quantitative", "scale": {"domain": [-105, 395]}, "axis": null},
        "y": {"field": "v", "type": "quantitative", "scale": {"domain": [-4, 4]}, "axis": null},
        "text": {"field": "label", "type": "nominal"}
      }
    },
    {
      "data": {"values": [{"t": 186.54, "v": -3.345}]},
      "mark": {"type": "point", "shape": "triangle-up", "filled": true, "color": "#111111", "size": 90, "angle": 21, "opacity": 1},
      "encoding": {
        "x": {"field": "t", "type": "quantitative", "scale": {"domain": [-105, 395]}, "axis": null},
        "y": {"field": "v", "type": "quantitative", "scale": {"domain": [-4, 4]}, "axis": null}
      }
    },
    {
      "data": {"values": [{"t": 332.31, "v": 3.418}]},
      "mark": {"type": "point", "shape": "M -0.93 -0.13 L -0.12 -0.55 L 0 -0.13 Z M 0.93 -0.13 L 0.12 -0.55 L 0 -0.13 Z M -0.52 -0.05 L -0.02 -0.05 L -0.2 0.47 Z M 0.52 -0.05 L 0.02 -0.05 L 0.2 0.47 Z", "filled": true, "color": "#1a1a1a", "size": 3600, "opacity": 1},
      "encoding": {
        "x": {"field": "t", "type": "quantitative", "scale": {"domain": [-105, 395]}, "axis": null},
        "y": {"field": "v", "type": "quantitative", "scale": {"domain": [-4, 4]}, "axis": null}
      }
    },
    {
      "data": {"values": [{"t": 345.77, "v": 3.58, "label": "TELEDYNE"}]},
      "mark": {"type": "text", "align": "left", "baseline": "middle", "fontSize": 13, "fontWeight": "bold", "font": "Liberation Sans", "color": "#1a1a1a"},
      "encoding": {
        "x": {"field": "t", "type": "quantitative", "scale": {"domain": [-105, 395]}, "axis": null},
        "y": {"field": "v", "type": "quantitative", "scale": {"domain": [-4, 4]}, "axis": null},
        "text": {"field": "label", "type": "nominal"}
      }
    },
    {
      "data": {"values": [{"t": 394.23, "v": 3.58, "label": "LECROY"}]},
      "mark": {"type": "text", "align": "right", "baseline": "middle", "fontSize": 13, "font": "Liberation Sans", "color": "#1a1a1a"},
      "encoding": {
        "x": {"field": "t", "type": "quantitative", "scale": {"domain": [-105, 395]}, "axis": null},
        "y": {"field": "v", "type": "quantitative", "scale": {"domain": [-4, 4]}, "axis": null},
        "text": {"field": "label", "type": "nominal"}
      }
    },
    {
      "data": {"values": [{"t": 345.77, "v": 3.31, "label": "Everywhere"}, {"t": 381.54, "v": 3.31, "label": "look™"}]},
      "mark": {"type": "text", "align": "left", "baseline": "middle", "fontSize": 13, "font": "Liberation Sans", "color": "#444444"},
      "encoding": {
        "x": {"field": "t", "type": "quantitative", "scale": {"domain": [-105, 395]}, "axis": null},
        "y": {"field": "v", "type": "quantitative", "scale": {"domain": [-4, 4]}, "axis": null},
        "text": {"field": "label", "type": "nominal"}
      }
    },
    {
      "data": {"values": [{"t": 372.31, "v": 3.31, "label": "you"}]},
      "mark": {"type": "text", "align": "left", "baseline": "middle", "fontSize": 13, "fontWeight": "bold", "font": "Liberation Sans", "color": "#222222"},
      "encoding": {
        "x": {"field": "t", "type": "quantitative", "scale": {"domain": [-105, 395]}, "axis": null},
        "y": {"field": "v", "type": "quantitative", "scale": {"domain": [-4, 4]}, "axis": null},
        "text": {"field": "label", "type": "nominal"}
      }
    }
  ]
}
